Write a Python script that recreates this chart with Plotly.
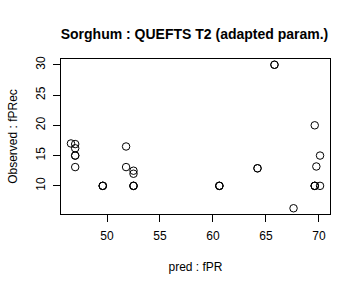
import plotly.graph_objects as go

pred_fpr = [46.6, 47.0, 47.0, 47.0, 47.0, 47.0, 49.6, 49.6, 49.6,
            51.8, 51.8, 52.5, 52.5, 52.5, 52.5, 52.5,
            60.6, 60.6, 60.6, 64.2, 64.2, 65.8, 65.8,
            67.6, 69.6, 69.6, 69.6, 69.6, 69.75, 70.1, 70.1]
obs_fprec = [17.0, 16.9, 16.2, 15.0, 15.0, 13.1, 10.0, 10.0, 10.0,
             16.5, 13.1, 12.5, 12.0, 10.0, 10.0, 10.0,
             10.0, 10.0, 10.0, 12.9, 12.9, 30.0, 30.0,
             6.3, 20.0, 10.0, 10.0, 10.0, 13.2, 15.0, 10.0]

x_ticks = [50, 55, 60, 65, 70]
y_ticks = [10, 15, 20, 25, 30]

fig = go.Figure()
fig.add_trace(go.Scatter(
    x=pred_fpr, y=obs_fprec, mode="markers",
    marker=dict(symbol="circle-open", size=7.5, color="black", line=dict(width=1, color="black")),
    showlegend=False,
))

font = "Liberation Sans, Arial, Helvetica, sans-serif"
fig.update_layout(
    width=360, height=288,
    margin=dict(l=59, r=30, t=59, b=74),
    paper_bgcolor="white", plot_bgcolor="white",
    font=dict(family=font, size=12, color="black"),
    title=dict(text="<b>Sorghum : QUEFTS T2 (adapted param.)</b>",
               x=(59 + 330) / 2 / 360, xanchor="center", y=1 - 34 / 288, yanchor="middle",
               font=dict(size=14, family=font, color="black")),
    xaxis=dict(range=[45.66, 71.04], tickvals=x_ticks, ticks="outside", ticklen=7,
               tickcolor="black", showgrid=False, zeroline=False, showline=True,
               linecolor="black", linewidth=1, mirror=True, ticklabelstandoff=4,
               title=dict(text="pred : fPR", standoff=20, font=dict(size=12)),
               tickfont=dict(size=12)),
    yaxis=dict(range=[5.35, 30.95], tickvals=y_ticks, ticks="outside", ticklen=7,
               tickcolor="black", showgrid=False, zeroline=False, showline=True,
               linecolor="black", linewidth=1, mirror=True, tickangle=-90, ticklabelstandoff=3,
               title=dict(text="Observed : fPRec", standoff=14, font=dict(size=12)),
               tickfont=dict(size=12)),
)

fig.write_html("out.html")
